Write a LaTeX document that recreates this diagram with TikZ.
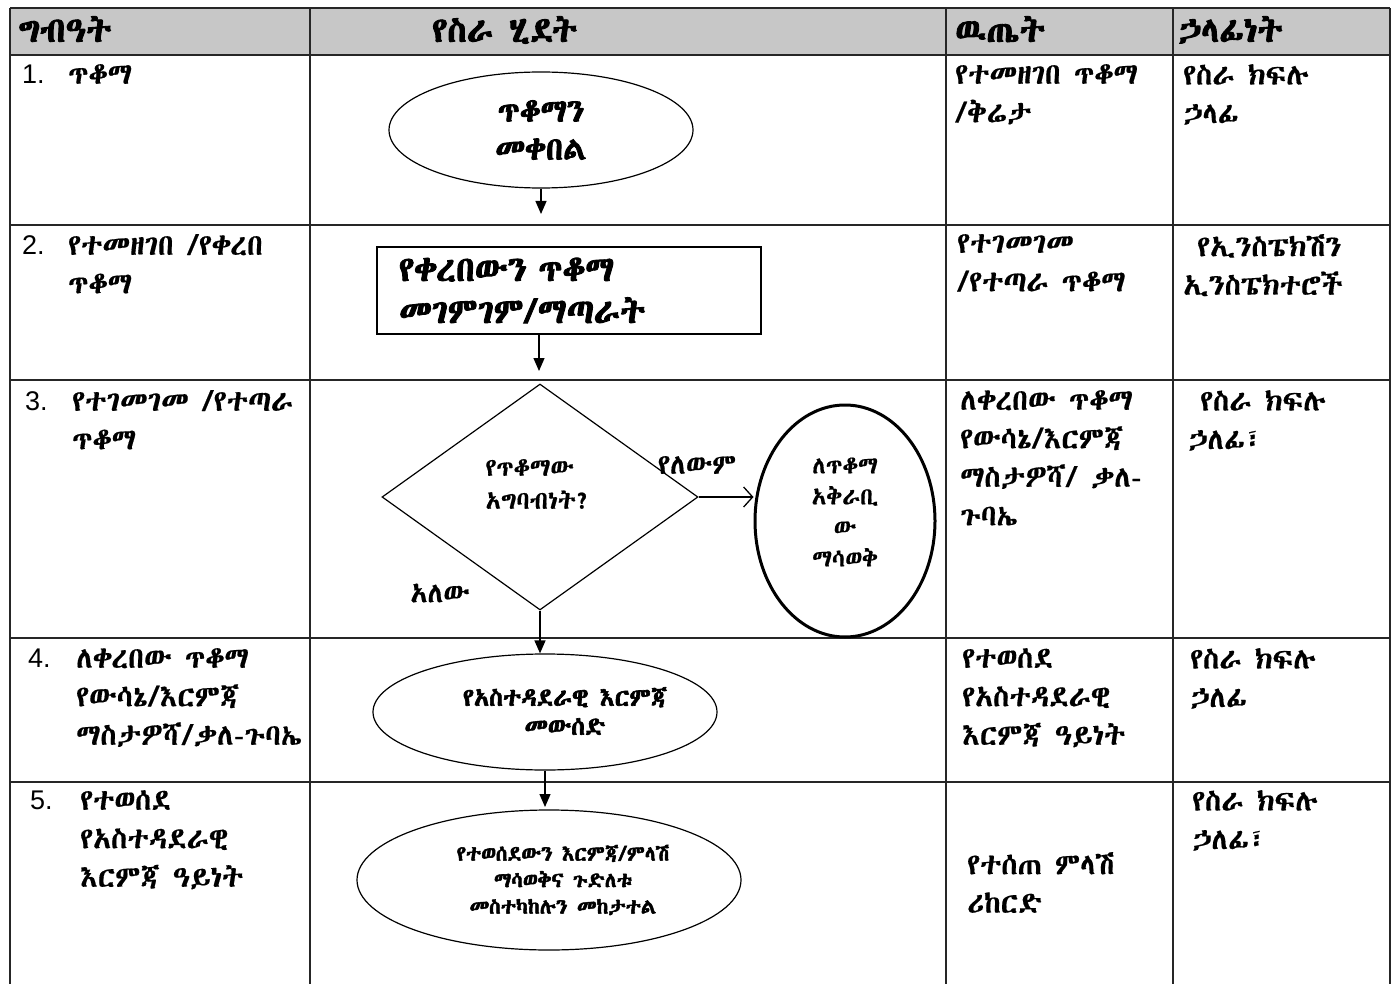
\documentclass[tikz,border=0pt]{standalone}
\usepackage{fontspec}
\IfFontExistsTF{FreeSerif.otf}{\setmainfont{FreeSerif.otf}[UprightFeatures={FakeBold=0.5},
    BoldFont=FreeSerif.otf, BoldFeatures={FakeBold=2.5}]}{%
  \IfFontExistsTF{Abyssinica SIL}{\setmainfont{Abyssinica SIL}[UprightFeatures={FakeBold=0.5},
    BoldFont=Abyssinica SIL, BoldFeatures={FakeBold=2.5}]}{\setmainfont{DejaVu Sans}}}
\newfontfamily\lat{Liberation Sans}
\usetikzlibrary{shapes.geometric,arrows.meta}
\tikzset{
  grid/.style={line width=1.3pt, black!85},
  cell/.style={anchor=north west, inner sep=0pt, align=left, font=\fontsize{29.5}{38.5}\selectfont},
  num/.style={anchor=north west, inner sep=0pt, font=\lat\fontsize{27}{30}\selectfont},
  head/.style={anchor=north west, inner sep=0pt, font=\bfseries\fontsize{35}{38}\selectfont},
  shp/.style={draw, line width=1.2pt, inner sep=0pt, align=center},
  txt/.style={inner sep=0pt},
  arr/.style={line width=1.3pt, -{Triangle[length=13pt,width=11pt]}},
  lbl/.style={inner sep=0pt, font=\fontsize{28}{30}\selectfont}
}
\begin{document}
\begin{tikzpicture}[x=1pt,y=-1pt]
\useasboundingbox (0,0) rectangle (1400,984);
% header
\fill[black!22] (10,8) rectangle (1390,55);
\draw[grid] (10,8) -- (1390,8);
\foreach \yy in {55,225,380,638,782} \draw[grid] (10,\yy) -- (1390,\yy);
\foreach \xx in {10,310,946,1173,1390} \draw[grid] (\xx,8) -- (\xx,984);
\node[head] (h1) at (18,16) {ግብዓት};
\node[head] (h2) at (432,16) {የስራ ሂደት};
\node[head] (h3) at (955,16) {ዉጤት};
\node[head] (h4) at (1178,16) {ኃላፊነት};
% column 1
\node[num] (n1) at (22,65) {1.};
\node[cell] (t1) at (68,64) {ጥቆማ};
\node[num] (n2) at (22,235) {2.};
\node[cell] (t2) at (68,234) {የተመዘገበ /የቀረበ\\ጥቆማ};
\node[num] (n3) at (25,391) {3.};
\node[cell] (t3) at (72,390) {የተገመገመ /የተጣራ\\ጥቆማ};
\node[num] (n4) at (28,649) {4.};
\node[cell] (t4) at (76,648) {ለቀረበው ጥቆማ\\የውሳኔ/እርምጃ\\ማስታዎሻ/ቃለ-ጉባኤ};
\node[num] (n5) at (30,791) {5.};
\node[cell] (t5) at (80,790) {የተወሰደ\\የአስተዳደራዊ\\እርምጃ ዓይነት};
% column 3
\node[cell] (o1) at (955,64) {የተመዘገበ ጥቆማ\\/ቅሬታ};
\node[cell] (o2) at (957,234) {የተገመገመ\\/የተጣራ ጥቆማ};
\node[cell] (o3) at (960,390) {ለቀረበው ጥቆማ\\የውሳኔ/እርምጃ\\ማስታዎሻ/ ቃለ-\\ጉባኤ};
\node[cell] (o4) at (962,648) {የተወሰደ\\የአስተዳደራዊ\\እርምጃ ዓይነት};
\node[cell] (o5) at (967,852) {የተሰጠ ምላሽ\\ሪከርድ};
% column 4
\node[cell] (r1) at (1183,64) {የስራ ክፍሉ\\ኃላፊ};
\node[cell] (r2) at (1183,234) {\hspace*{14pt}የኢንስፔክሽን\\ኢንስፔክተሮች};
\node[cell] (r3) at (1188,390) {\hspace*{12pt}የስራ ክፍሉ\\ኃለፊ፣};
\node[cell] (r4) at (1190,648) {የስራ ክፍሉ\\ኃለፊ};
\node[cell] (r5) at (1192,790) {የስራ ክፍሉ\\ኃለፊ፣};
% process column
\node[shp, ellipse, minimum width=304pt, minimum height=116pt,
      font=\bfseries\fontsize{32}{38}\selectfont] (e1) at (541,130) {ጥቆማን\\መቀበል};
\coordinate (a1) at (e1.south |- 0,214);
\draw[arr] (e1.south) -- (a1);
\node[shp, rectangle, minimum width=384pt, minimum height=87pt, text width=340pt,
      align=left, font=\bfseries\fontsize{35}{42}\selectfont] (b2) at (569,290.5)
      {የቀረበውን ጥቆማ\\መገምገም/ማጣራት};
\coordinate (a2s) at (539,334);
\coordinate (a2e) at (539,371);
\draw[arr] (a2s) -- (a2e);
\node[shp, diamond, minimum width=316pt, minimum height=226pt] (d3) at (540,497) {};
\node[txt, align=left, font=\fontsize{25}{33}\selectfont] (d3t) at (538,484) {የጥቆማው\\አግባብነት?};
\node[shp, ellipse, line width=3pt, minimum width=180pt, minimum height=232pt] (c3) at (845,521) {};
\node[txt, align=center, font=\fontsize{24}{31}\selectfont] (c3t) at (845,512) {ለጥቆማ\\አቅራቢ\\ው\\ማሳወቅ};
\draw[line width=1.3pt, -{Straight Barb[length=9pt,width=20pt,line width=1.3pt]}]
      (d3.east) -- (c3.west |- d3.east);
\node[lbl] (no) at (697,465) {የለውም};
\node[lbl] (yes) at (440,593) {አለው};
\node[shp, ellipse, minimum width=344pt, minimum height=116pt] (e4) at (545,712) {};
\node[txt, align=center, font=\bfseries\fontsize{25}{29}\selectfont] (e4t) at (565,711)
      {የአስተዳደራዊ እርምጃ\\መውሰድ};
\draw[arr] (d3.south) -- (d3.south |- e4.north);
\coordinate (a4) at (e4.south |- 0,807);
\draw[arr] (e4.south) -- (a4);
\node[shp, ellipse, minimum width=384pt, minimum height=140pt] (e5) at (549,880) {};
\node[txt, align=center, font=\bfseries\fontsize{21}{26.5}\selectfont] (e5t) at (563,880)
      {የተወሰደውን እርምጃ/ምላሽ\\ማሳወቅና ጉድለቱ\\መስተካከሉን መከታተል};
\end{tikzpicture}
\end{document}
